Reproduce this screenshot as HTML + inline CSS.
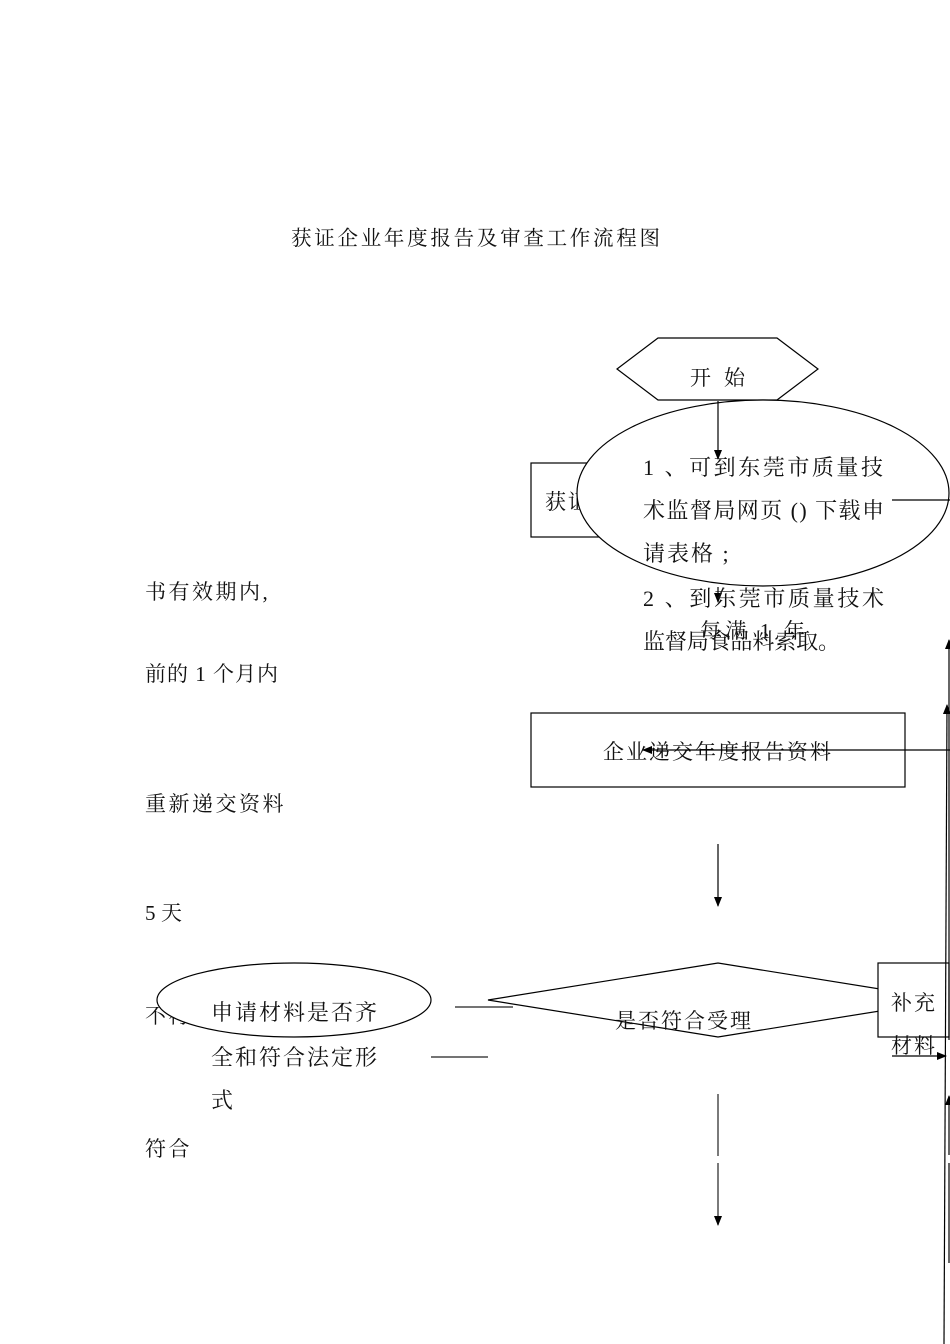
<!DOCTYPE html>
<html>
<head>
<meta charset="utf-8">
<style>
html,body{margin:0;padding:0;background:#fff;}
body{width:950px;height:1344px;overflow:hidden;position:relative;}
svg{position:absolute;left:0;top:0;}
text{font-family:"Liberation Serif","Noto Serif CJK SC","Noto Sans CJK SC",serif;fill:#111;}
</style>
</head>
<body>
<svg width="950" height="1344" viewBox="0 0 950 1344" xmlns="http://www.w3.org/2000/svg">
  <defs>
    <marker id="ah" markerWidth="10" markerHeight="10" refX="9" refY="5" orient="auto" markerUnits="userSpaceOnUse">
      <path d="M0,1 L10,5 L0,9 Z" fill="#000"/>
    </marker>
  </defs>

  <!-- Title -->
  <text x="291" y="245" font-size="20.5" textLength="369" lengthAdjust="spacing">获证企业年度报告及审查工作流程图</text>

  <!-- Left side labels -->
  <text x="145" y="599" font-size="21" letter-spacing="2.5">书有效期内,</text>
  <text x="145" y="681" font-size="21" textLength="133" lengthAdjust="spacing">前的 1 个月内</text>
  <text x="145" y="811" font-size="21" letter-spacing="2.5">重新递交资料</text>
  <text x="145" y="920" font-size="21" textLength="37" lengthAdjust="spacing">5 天</text>
  <text x="145" y="1023" font-size="21" letter-spacing="2.5">不符</text>
  <text x="145" y="1156" font-size="21" letter-spacing="2.5">符合</text>

  <!-- Start hexagon -->
  <polygon points="617,369 658,338 777,338 818,369 777,400 658,400" fill="#fff" stroke="#000" stroke-width="1.2"/>
  <text x="690" y="385" font-size="21" textLength="55" lengthAdjust="spacing">开 始</text>

  <!-- 获证 box (behind ellipse) -->
  <rect x="531" y="463" width="90" height="74" fill="#fff" stroke="#000" stroke-width="1.2"/>
  <text x="545" y="509" font-size="21" letter-spacing="2">获证</text>

  <!-- Big ellipse -->
  <ellipse cx="763" cy="493" rx="186" ry="93" fill="#fff" stroke="#000" stroke-width="1.2"/>

  <!-- arrow from start -->
  <line x1="718" y1="401" x2="718" y2="459" stroke="#000" stroke-width="1.2" marker-end="url(#ah)"/>
  <!-- line on right of ellipse -->
  <line x1="892" y1="500" x2="950" y2="500" stroke="#000" stroke-width="1.2"/>
  <!-- small arrow below ellipse -->
  <line x1="718" y1="587" x2="718" y2="602" stroke="#000" stroke-width="1.2" marker-end="url(#ah)"/>

  <!-- ellipse text -->
  <text x="643" y="475" font-size="22" textLength="240" lengthAdjust="spacing">1 、可到东莞市质量技</text>
  <text x="643" y="518" font-size="22" textLength="241" lengthAdjust="spacing">术监督局网页 () 下载申</text>
  <text x="643" y="561" font-size="22" letter-spacing="2">请表格 ;</text>
  <text x="643" y="606" font-size="22" textLength="241" lengthAdjust="spacing">2 、到东莞市质量技术</text>
  <text x="700" y="638" font-size="21" textLength="105" lengthAdjust="spacing">每满 1 年</text>
  <text x="643" y="649" font-size="22" textLength="197" lengthAdjust="spacing">监督局食品料索取。</text>

  <!-- Submit box -->
  <rect x="531" y="713" width="374" height="74" fill="#fff" stroke="#000" stroke-width="1.2"/>
  <text x="603" y="759" font-size="21" letter-spacing="2">企业递交年度报告资料</text>
  <line x1="950" y1="750" x2="643" y2="750" stroke="#000" stroke-width="1.2" marker-end="url(#ah)"/>

  <!-- arrow down -->
  <line x1="718" y1="844" x2="718" y2="906" stroke="#000" stroke-width="1.2" marker-end="url(#ah)"/>

  <!-- Diamond -->
  <polygon points="488,1000 718,963 948,1000 718,1037" fill="#fff" stroke="#000" stroke-width="1.2"/>
  <text x="615" y="1028" font-size="21" letter-spacing="2">是否符合受理</text>

  <!-- 补充 box -->
  <rect x="878" y="963" width="71" height="74" fill="#fff" stroke="#000" stroke-width="1.2"/>
  <text x="891" y="1010" font-size="21" letter-spacing="2">补充</text>
  <text x="891" y="1053" font-size="21" letter-spacing="2">材料</text>
  <line x1="892" y1="1056" x2="946" y2="1056" stroke="#000" stroke-width="1.2" marker-end="url(#ah)"/>

  <!-- left lines -->
  <line x1="455" y1="1007" x2="513" y2="1007" stroke="#222" stroke-width="1.3"/>
  <line x1="431" y1="1057" x2="488" y2="1057" stroke="#222" stroke-width="1.3"/>

  <!-- left ellipse -->
  <ellipse cx="294" cy="1000" rx="137" ry="37" fill="#fff" stroke="#000" stroke-width="1.2"/>
  <text x="211" y="1020" font-size="22" letter-spacing="2">申请材料是否齐</text>
  <text x="211" y="1065" font-size="22" letter-spacing="2">全和符合法定形</text>
  <text x="211" y="1108" font-size="22" letter-spacing="2">式</text>

  <!-- bottom arrow down -->
  <line x1="718" y1="1094" x2="718" y2="1156" stroke="#222" stroke-width="1.2"/>
  <line x1="718" y1="1163" x2="718" y2="1225" stroke="#222" stroke-width="1.2" marker-end="url(#ah)"/>

  <!-- right edge vertical lines -->
  <line x1="949" y1="1040" x2="949" y2="640" stroke="#000" stroke-width="1.2" marker-end="url(#ah)"/>
  <line x1="944" y1="1344" x2="947" y2="705" stroke="#000" stroke-width="1.2" marker-end="url(#ah)"/>
  <line x1="949" y1="1155" x2="949" y2="1096" stroke="#000" stroke-width="1.2" marker-end="url(#ah)"/>
  <line x1="949" y1="1163" x2="949" y2="1263" stroke="#000" stroke-width="1.2"/>
</svg>
</body>
</html>
